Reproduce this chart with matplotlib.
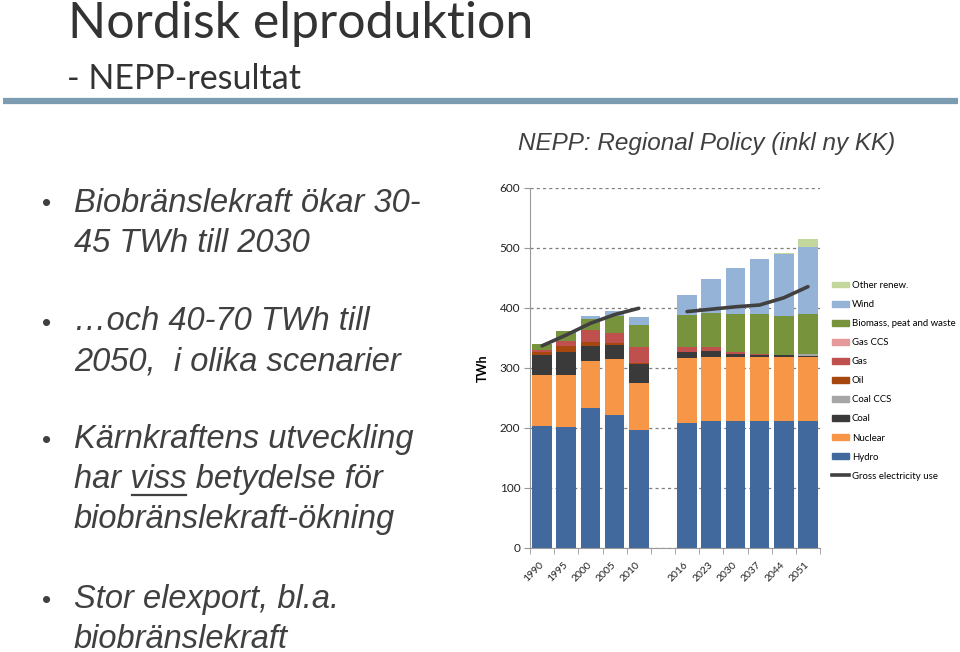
import numpy as np
import matplotlib
matplotlib.use('Agg')
from matplotlib import pyplot as plt
from matplotlib.lines import Line2D
from matplotlib.patches import Patch

nan = np.nan

# kategorier (tom plats mellan historik och scenario)
years = ['1990', '1995', '2000', '2005', '2010', '', '2016', '2023', '2030', '2037', '2044', '2051']

# TWh per kraftslag
hydro = [203, 202, 234, 222, 197, nan, 209, 212, 212, 212, 212, 212]
nuclear = [85, 86, 78, 92.5, 77.5, nan, 107, 107, 107, 107, 107, 107]
coal = [34, 39, 25, 23.5, 31.5, nan, 11, 9, 4, 3.5, 2.5, 1]
coal_ccs = [0, 0, 0, 0, 0, nan, 0, 0, 0, 0, 1, 4]
oil = [5, 10, 7, 3, 3, nan, 0, 0, 0, 0, 0, 0]
gas = [3, 8, 19, 18, 26.5, nan, 8.5, 7.5, 3, 0.5, 0, 0]
gas_ccs = [0, 0, 0, 0, 0, nan, 0, 0, 0, 0, 0, 0]
biomass = [10, 17, 18, 28, 36.5, nan, 53.5, 55.5, 64, 67, 64.5, 66]
wind = [0, 0, 6, 8.5, 13.5, nan, 32.7, 58, 76, 91, 102.5, 111]
other = [0, 0, 0, 0, 0, nan, 0, 0, 0, 1, 1.5, 13.5]
gross_use = [337, 355, 374.5, 389, 399.5, nan, 394, 398, 402, 405, 417, 435.5]

series = [
    ('Hydro', hydro, '#41699E'),
    ('Nuclear', nuclear, '#F79646'),
    ('Coal', coal, '#3A3A3A'),
    ('Coal CCS', coal_ccs, '#A6A6A6'),
    ('Oil', oil, '#A5470F'),
    ('Gas', gas, '#C0504D'),
    ('Gas CCS', gas_ccs, '#E6999A'),
    ('Biomass, peat and waste', biomass, '#77933C'),
    ('Wind', wind, '#95B3D7'),
    ('Other renew.', other, '#C3D69B'),
]

W, H = 960, 652
fig = plt.figure(figsize=(9.6, 6.52), dpi=100)


def fy(px):
    return 1 - px / H


def fx(px):
    return px / W


# rubrik
fig.text(fx(68), fy(38), 'Nordisk elproduktion', family='Lato', fontsize=36,
         color='#333333', va='baseline')
fig.text(fx(67), fy(89), '- NEPP-resultat', family='Lato', fontsize=24.5,
         color='#333333', va='baseline')
fig.add_artist(Line2D([fx(3), fx(958)], [fy(100.5), fy(100.5)], color='#7C9DB1', lw=4.5,
                      solid_capstyle='butt'))

# punktlista
txt = dict(family='Liberation Sans', style='italic', fontsize=23.5, color='#404040', va='baseline')
lines = [
    (211.5, 'Biobränslekraft ökar 30-', True),
    (251.5, '45 TWh till 2030', False),
    (330.5, '…och 40-70 TWh till', True),
    (370, '2050,  i olika scenarier', False),
    (448, 'Kärnkraftens utveckling', True),
    (488, 'har viss betydelse för', False),
    (528, 'biobränslekraft-ökning', False),
    (608, 'Stor elexport, bl.a.', True),
    (648, 'biobränslekraft', False),
]
for y, s, bullet in lines:
    fig.text(fx(74), fy(y), s, **txt)
    if bullet:
        fig.text(fx(42), fy(y), '•', family='Liberation Sans', fontsize=19,
                 color='#404040', va='baseline')

# understrykning av "viss"
r = fig.canvas.get_renderer()
t1 = fig.text(fx(74), fy(488), 'har ', **txt)
t2 = fig.text(fx(74), fy(488), 'har viss', **txt)
w1 = t1.get_window_extent(r).width
w2 = t2.get_window_extent(r).width
t1.remove()
t2.remove()
fig.add_artist(Line2D([fx(74 + w1 + 2), fx(74 + w2 - 1)], [fy(495), fy(495)],
                      color='#404040', lw=1.6))

# diagram
ax = fig.add_axes([fx(530), fy(548), fx(820 - 530), (548 - 188) / H])
x = np.arange(len(years))
bottom = np.zeros(len(years))
for name, vals, col in series:
    v = np.nan_to_num(np.array(vals, dtype=float))
    ax.bar(x, v, width=0.82, bottom=bottom, color=col, zorder=2)
    bottom += v
ax.plot(x, gross_use, color='#404040', lw=2.6, zorder=3, solid_capstyle='round')

ax.set_xlim(-0.45, 11.5)
ax.set_ylim(0, 600)
ax.set_yticks(range(0, 601, 100))
ax.yaxis.grid(True, ls=(0, (2.5, 2.5)), color='#7F7F7F', lw=0.9, zorder=0)
ax.set_xticks(x)
ax.set_xticklabels(years, rotation=45, ha='right', va='center', rotation_mode='anchor',
                   family='Lato', fontsize=7.5, color='#222222')
ax.tick_params(axis='x', length=0, pad=11)
ax.set_xticks(np.arange(-0.5, 11.6, 1), minor=True)
ax.tick_params(axis='x', which='minor', length=4, color='#999999', direction='out')
ax.tick_params(axis='y', length=4, color='#999999', labelsize=8.5, labelcolor='#222222', pad=3)
for lbl in ax.get_yticklabels():
    lbl.set_family('Lato')
for sp in ['top', 'right']:
    ax.spines[sp].set_visible(False)
ax.spines['left'].set_color('#999999')
ax.spines['bottom'].set_color('#999999')
ax.set_ylabel('TWh', family='Lato', fontweight='bold', fontsize=9, labelpad=8)

fig.text(fx(518), fy(150), 'NEPP: Regional Policy (inkl ny KK)', family='Liberation Sans',
         style='italic', fontsize=17.5, color='#404040', va='baseline')

# legend
handles = [Patch(color=col, label=name) for name, vals, col in series[::-1]]
handles.append(Line2D([], [], color='#404040', lw=2.6, label='Gross electricity use'))
ax.legend(handles=handles, loc='upper left', bbox_to_anchor=(fx(832), fy(281)),
          bbox_transform=fig.transFigure, frameon=False, borderaxespad=0, borderpad=0,
          prop={'family': 'Lato', 'size': 6.9}, handlelength=1.8, handleheight=0.55,
          handletextpad=0.25, labelspacing=1.05)

plt.savefig('out.png', dpi=100)
